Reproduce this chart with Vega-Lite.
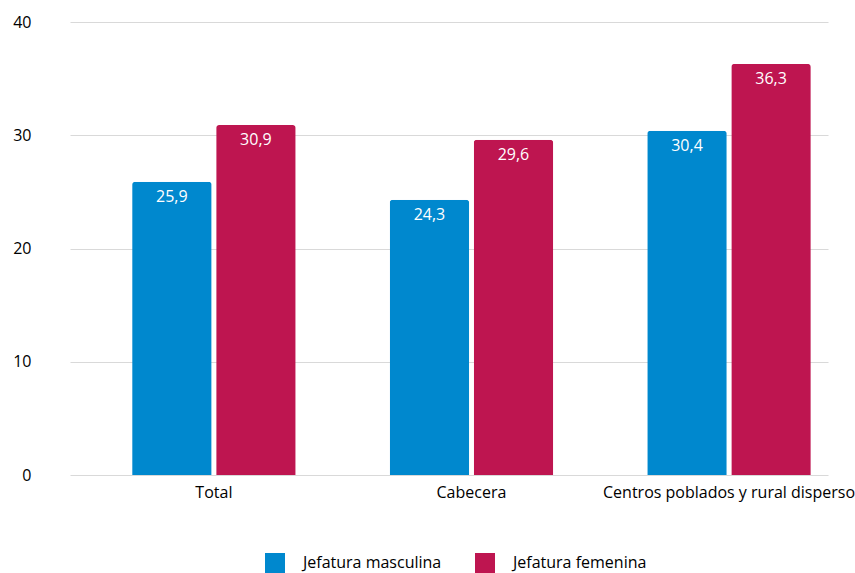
{
  "$schema": "https://vega.github.io/schema/vega-lite/v6.json",
  "width": 758,
  "height": 453,
  "autosize": {"type": "none"},
  "padding": {"left": 70, "top": 22, "right": 27, "bottom": 98},
  "background": "white",
  "config": {
    "font": "Open Sans",
    "view": {"stroke": null},
    "locale": {"number": {"decimal": ",", "thousands": ".", "grouping": [3], "currency": ["$", ""]}}
  },
  "data": {
    "values": [
      {"zona": "Total", "jefatura": "Jefatura masculina", "valor": 25.9},
      {"zona": "Total", "jefatura": "Jefatura femenina", "valor": 30.9},
      {"zona": "Cabecera", "jefatura": "Jefatura masculina", "valor": 24.3},
      {"zona": "Cabecera", "jefatura": "Jefatura femenina", "valor": 29.6},
      {"zona": "Centros poblados y rural disperso", "jefatura": "Jefatura masculina", "valor": 30.4},
      {"zona": "Centros poblados y rural disperso", "jefatura": "Jefatura femenina", "valor": 36.3}
    ]
  },
  "encoding": {
    "x": {
      "field": "zona", "type": "nominal", "sort": null,
      "scale": {"paddingInner": 0.365, "paddingOuter": 0.154, "align": 0.783},
      "axis": {"title": null, "labelAngle": 0, "ticks": false, "domain": false, "labelFontSize": 16, "labelColor": "#000000", "labelPadding": 9, "labelLimit": 400}
    },
    "xOffset": {
      "field": "jefatura", "type": "nominal", "sort": ["Jefatura masculina", "Jefatura femenina"],
      "scale": {"paddingInner": 0.054, "paddingOuter": 0}
    },
    "y": {
      "field": "valor", "type": "quantitative",
      "scale": {"domain": [0, 40]},
      "axis": {"title": null, "values": [0, 10, 20, 30, 40], "labelOverlap": false, "ticks": false, "domain": false, "labelFontSize": 16, "labelColor": "#000000", "labelPadding": 39, "gridColor": "#d9d9d9", "gridWidth": 1}
    }
  },
  "layer": [
    {
      "mark": {"type": "bar", "cornerRadiusTopLeft": 3, "cornerRadiusTopRight": 3},
      "encoding": {
        "color": {
          "field": "jefatura", "type": "nominal", "sort": ["Jefatura masculina", "Jefatura femenina"],
          "scale": {"domain": ["Jefatura masculina", "Jefatura femenina"], "range": ["#0088CE", "#BE1550"]},
          "legend": {
            "title": null, "orient": "none", "legendX": 195, "legendY": 531, "direction": "horizontal", "symbolType": "square",
            "symbolSize": 400, "symbolStrokeWidth": 0, "labelFontSize": 16, "labelColor": "#000000",
            "columnPadding": 33, "labelOffset": 18
          }
        }
      }
    },
    {
      "mark": {"type": "text", "baseline": "top", "dy": 7, "color": "white", "fontSize": 16},
      "encoding": {
        "text": {"field": "valor", "type": "quantitative", "format": ".1f"}
      }
    }
  ]
}
